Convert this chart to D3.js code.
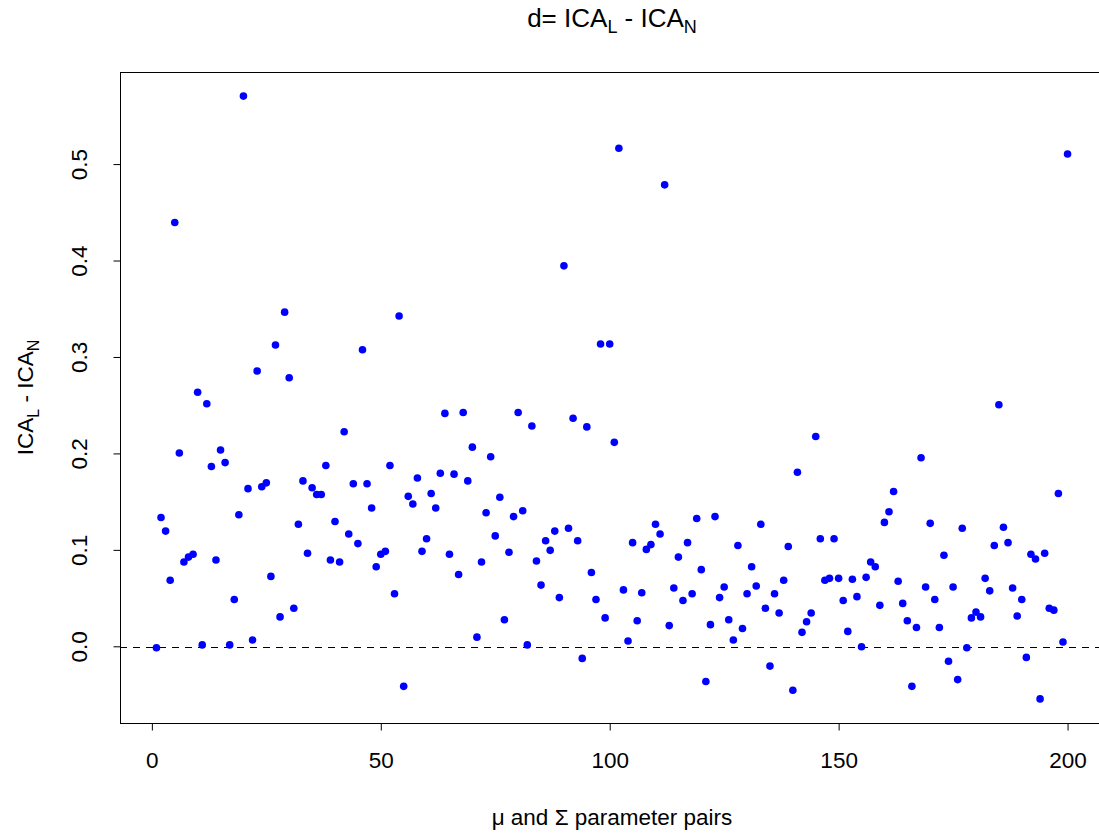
<!DOCTYPE html>
<html>
<head>
<meta charset="utf-8">
<script src="https://cdn.jsdelivr.net/npm/d3@7"></script>
<style>
  body { margin: 0; background: #fff; }
  text { font-family: "Liberation Sans", Arial, sans-serif; fill: #000; }
</style>
</head>
<body>
<svg id="chart"></svg>
<script>
// d = ICA_L - ICA_N for each of the 200 parameter pairs
var diffValues = [
  -0.001, 0.134, 0.120, 0.069, 0.440, 0.201, 0.088, 0.093, 0.096, 0.264,
   0.002, 0.252, 0.187, 0.090, 0.204, 0.191, 0.002, 0.049, 0.137, 0.571,
   0.164, 0.007, 0.286, 0.166, 0.170, 0.073, 0.313, 0.031, 0.347, 0.279,
   0.040, 0.127, 0.172, 0.097, 0.165, 0.158, 0.158, 0.188, 0.090, 0.130,
   0.088, 0.223, 0.117, 0.169, 0.107, 0.308, 0.169, 0.144, 0.083, 0.096,
   0.099, 0.188, 0.055, 0.343, -0.041, 0.156, 0.148, 0.175, 0.099, 0.112,
   0.159, 0.144, 0.180, 0.242, 0.096, 0.179, 0.075, 0.243, 0.172, 0.207,
   0.010, 0.088, 0.139, 0.197, 0.115, 0.155, 0.028, 0.098, 0.135, 0.243,
   0.141, 0.002, 0.229, 0.089, 0.064, 0.110, 0.100, 0.120, 0.051, 0.395,
   0.123, 0.237, 0.110, -0.012, 0.228, 0.077, 0.049, 0.314, 0.030, 0.314,
   0.212, 0.517, 0.059, 0.006, 0.108, 0.027, 0.056, 0.101, 0.106, 0.127,
   0.117, 0.479, 0.022, 0.061, 0.093, 0.048, 0.108, 0.055, 0.133, 0.080,
  -0.036, 0.023, 0.135, 0.051, 0.062, 0.028, 0.007, 0.105, 0.019, 0.055,
   0.083, 0.063, 0.127, 0.040, -0.020, 0.055, 0.035, 0.069, 0.104, -0.045,
   0.181, 0.015, 0.026, 0.035, 0.218, 0.112, 0.069, 0.071, 0.112, 0.071,
   0.048, 0.016, 0.070, 0.052, 0.000, 0.072, 0.088, 0.083, 0.043, 0.129,
   0.140, 0.161, 0.068, 0.045, 0.027, -0.041, 0.020, 0.196, 0.062, 0.128,
   0.049, 0.020, 0.095, -0.015, 0.062, -0.034, 0.123, -0.001, 0.030, 0.036,
   0.031, 0.071, 0.058, 0.105, 0.251, 0.124, 0.108, 0.061, 0.032, 0.049,
  -0.011, 0.096, 0.091, -0.054, 0.097, 0.040, 0.038, 0.159, 0.005, 0.511
];
var xTicks = [0, 50, 100, 150, 200];
var yTicks = [0.0, 0.1, 0.2, 0.3, 0.4, 0.5];

var width = 1099, height = 834;
var plotLeft = 120, plotRight = 1104, plotTop = 72, plotBottom = 723;
var axisFont = "22.5px";

var svg = d3.select("#chart")
    .attr("width", width)
    .attr("height", height);

// R style 4% padding on the axis ranges
var x = d3.scaleLinear().domain([-6.96, 207.96]).range([plotLeft, plotRight]);
var y = d3.scaleLinear().domain([-0.079, 0.596]).range([plotBottom, plotTop]);

// plot box
svg.append("rect")
    .attr("x", plotLeft + 0.5)
    .attr("y", plotTop + 0.5)
    .attr("width", plotRight - plotLeft)
    .attr("height", plotBottom - plotTop)
    .attr("fill", "none")
    .attr("stroke", "#000")
    .attr("stroke-width", 1);

// zero line
svg.append("line")
    .attr("x1", plotLeft).attr("x2", plotRight)
    .attr("y1", Math.round(y(0)) + 0.5).attr("y2", Math.round(y(0)) + 0.5)
    .attr("stroke", "#000")
    .attr("stroke-dasharray", "7,6");

// points
svg.selectAll("circle.pt")
    .data(diffValues)
    .enter()
    .append("circle")
    .attr("class", "pt")
    .attr("cx", function(d, i) { return x(i + 1); })
    .attr("cy", function(d) { return y(d); })
    .attr("r", 3.8)
    .attr("fill", "#0000ff");

// x axis
var xAxis = d3.axisBottom(x).tickValues(xTicks).tickSize(7).tickPadding(22)
    .tickFormat(d3.format("d"));
var gx = svg.append("g")
    .attr("transform", "translate(0," + (plotBottom + 0.5) + ")")
    .call(xAxis);
gx.select(".domain").attr("d", "M" + x(0) + ",0H" + x(200));
gx.selectAll("text").style("font-size", axisFont).style("font-family", "Liberation Sans, Arial, sans-serif");

// y axis
var yAxis = d3.axisLeft(y).tickValues(yTicks).tickSize(7)
    .tickFormat(d3.format(".1f"));
var gy = svg.append("g")
    .attr("transform", "translate(" + (plotLeft + 0.5) + ",0)")
    .call(yAxis);
gy.select(".domain").attr("d", "M0," + y(0) + "V" + y(0.5));
gy.selectAll(".tick").attr("transform", null);
gy.selectAll(".tick line")
    .attr("y1", function(d) { return y(d); })
    .attr("y2", function(d) { return y(d); });
gy.selectAll(".tick text")
    .style("font-size", axisFont)
    .style("font-family", "Liberation Sans, Arial, sans-serif")
    .attr("text-anchor", "middle")
    .attr("x", 0)
    .attr("y", 0)
    .attr("dy", 0)
    .attr("transform", function(d) { return "translate(-34," + y(d) + ") rotate(-90)"; });

// title
var title = svg.append("text")
    .attr("x", (plotLeft + plotRight) / 2)
    .attr("y", 27)
    .attr("text-anchor", "middle")
    .style("font-size", "26px");
title.append("tspan").text("d= ICA");
title.append("tspan").attr("dy", 6).style("font-size", "18px").text("L");
title.append("tspan").attr("dy", -6).text(" - ICA");
title.append("tspan").attr("dy", 6).style("font-size", "18px").text("N");

// x label
svg.append("text")
    .attr("x", (plotLeft + plotRight) / 2)
    .attr("y", 825)
    .attr("text-anchor", "middle")
    .style("font-size", axisFont)
    .text("\u03bc and \u03a3 parameter pairs");

// y label
var ylab = svg.append("text")
    .attr("transform", "translate(33," + ((plotTop + plotBottom) / 2) + ") rotate(-90)")
    .attr("text-anchor", "middle")
    .style("font-size", axisFont);
ylab.append("tspan").text("ICA");
ylab.append("tspan").attr("dy", 6).style("font-size", "16px").text("L");
ylab.append("tspan").attr("dy", -6).text(" - ICA");
ylab.append("tspan").attr("dy", 6).style("font-size", "16px").text("N");
</script>
</body>
</html>
